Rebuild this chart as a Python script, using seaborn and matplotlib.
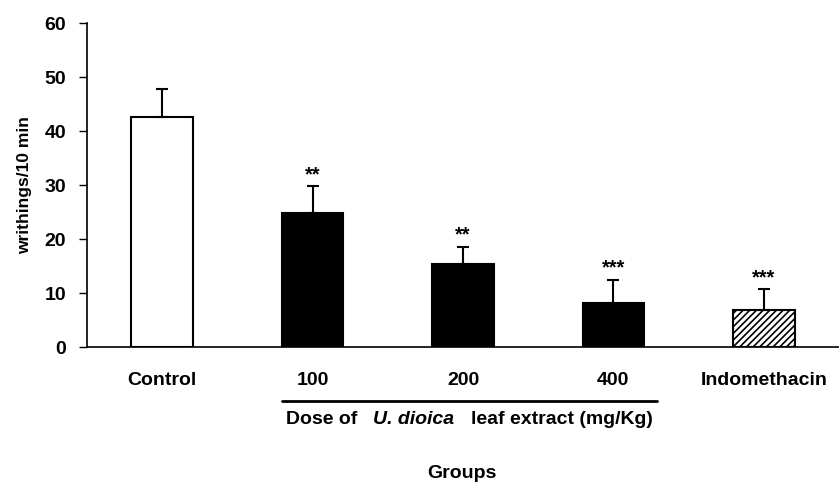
import numpy as np
import pandas as pd
import seaborn as sns
import matplotlib.pyplot as plt

# values
groups = ['Control', '100', '200', '400', 'Indomethacin']
means = [42.6, 24.9, 15.4, 8.2, 6.9]
sems = [5.2, 4.9, 3.2, 4.2, 3.8]
stars = ['', '**', '**', '***', '***']
fills = ['white', 'black', 'black', 'black', 'white']
hatches = ['', '', '', '', '/////']

sns.set_style('ticks')
plt.rcParams['font.family'] = ['Liberation Sans', 'DejaVu Sans']
plt.rcParams['font.weight'] = 'bold'
plt.rcParams['hatch.linewidth'] = 1.2
for key in ['text.color', 'axes.labelcolor', 'xtick.color', 'ytick.color',
            'axes.edgecolor']:
    plt.rcParams[key] = 'black'

df = pd.DataFrame({'Group': groups, 'Writhings': means})

fig = plt.figure(figsize=(8.39, 4.84), dpi=100)
ax = fig.add_axes([87 / 839, 137 / 484, 1 - 87 / 839, 324 / 484])

sns.barplot(data=df, x='Group', y='Writhings', order=groups, width=0.41,
            color='white', edgecolor='black', linewidth=1.5, errorbar=None, ax=ax)

for bar, fc, h in zip(ax.patches, fills, hatches):
    bar.set_facecolor(fc)
    bar.set_hatch(h)

xs = np.arange(len(groups))
ax.errorbar(xs, means, yerr=[np.zeros(len(sems)), sems], fmt='none',
            ecolor='black', elinewidth=1.5, capsize=4.5, capthick=1.5, zorder=1)

for x, m, s, st in zip(xs, means, sems, stars):
    if st:
        ax.text(x, m + s + 0.4, st, ha='center', va='bottom', fontsize=14.5,
                fontweight='bold')

ax.set_xlim(-0.5, 4.5)
ax.set_ylim(0, 60)
ax.set_yticks(range(0, 61, 10))
ax.tick_params(axis='y', length=6, width=1, pad=9, labelsize=14)
ax.tick_params(axis='x', length=0, pad=18, labelsize=14)
for lab in ax.get_xticklabels() + ax.get_yticklabels():
    lab.set_fontweight('bold')
ax.set_xlabel('')
ax.set_ylabel('writhings/10 min', fontsize=12.5, fontweight='bold', labelpad=9)
sns.despine(ax=ax)
for sp in ['left', 'bottom']:
    ax.spines[sp].set_linewidth(1.2)

# dose bracket line and label
fig.add_artist(plt.Line2D([282 / 839, 657 / 839], [1 - 401 / 484, 1 - 401 / 484],
                          color='black', lw=2))
y_dose = 1 - 419 / 484
fig.text(322 / 839, y_dose, 'Dose of', ha='center', va='center', fontsize=14, fontweight='bold')
fig.text(414 / 839, y_dose, 'U. dioica', ha='center', va='center', fontsize=14,
         fontweight='bold', fontstyle='italic')
fig.text(562 / 839, y_dose, 'leaf extract (mg/Kg)', ha='center', va='center',
         fontsize=14, fontweight='bold')
fig.text(462 / 839, 1 - 474 / 484, 'Groups', ha='center', va='center',
         fontsize=14, fontweight='bold')

fig.savefig('out.png', dpi=100)
